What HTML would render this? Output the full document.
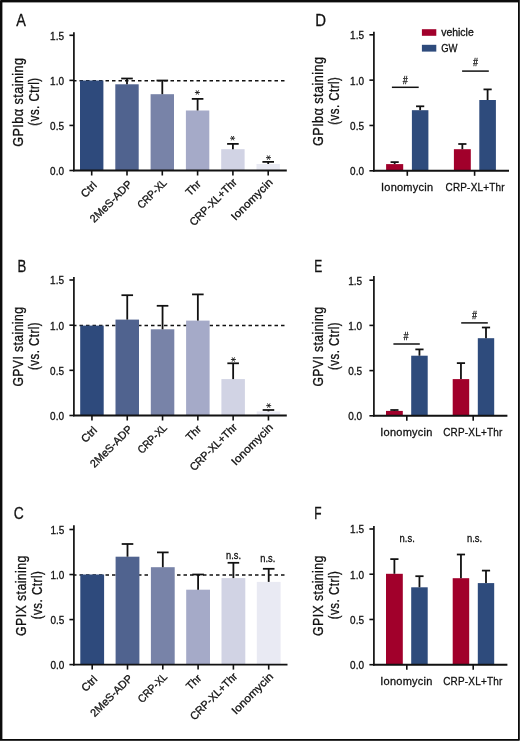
<!DOCTYPE html>
<html><head><meta charset="utf-8"><style>
html,body{margin:0;padding:0;background:#fff;}
body{width:520px;height:741px;overflow:hidden;}
svg{display:block;font-family:"Liberation Sans", sans-serif;will-change:transform;}
text{stroke:#111;stroke-width:0.3px;}
</style></head><body>
<svg width="520" height="741" viewBox="0 0 520 741">
<rect x="0" y="0" width="520" height="741" fill="#fff"/>
<line x1="73.00" y1="80.82" x2="286.00" y2="80.82" stroke="#111" stroke-width="1.5" stroke-dasharray="3.5 3"/>
<rect x="80.00" y="80.50" width="23.40" height="90.00" fill="#2e4a7c"/>
<rect x="115.30" y="84.30" width="23.40" height="86.20" fill="#50638f"/>
<rect x="150.60" y="94.20" width="23.40" height="76.30" fill="#7883a8"/>
<rect x="185.90" y="110.50" width="23.40" height="60.00" fill="#a5aac8"/>
<rect x="221.20" y="149.20" width="23.40" height="21.30" fill="#d1d3e4"/>
<rect x="256.50" y="164.00" width="23.40" height="6.50" fill="#e9eaf3"/>
<line x1="127.00" y1="78.50" x2="127.00" y2="84.30" stroke="#111" stroke-width="1.8" />
<line x1="121.20" y1="78.50" x2="132.80" y2="78.50" stroke="#111" stroke-width="1.75" />
<line x1="162.30" y1="80.50" x2="162.30" y2="94.20" stroke="#111" stroke-width="1.8" />
<line x1="156.50" y1="80.50" x2="168.10" y2="80.50" stroke="#111" stroke-width="1.75" />
<line x1="197.60" y1="98.90" x2="197.60" y2="110.50" stroke="#111" stroke-width="1.8" />
<line x1="191.80" y1="98.90" x2="203.40" y2="98.90" stroke="#111" stroke-width="1.75" />
<line x1="232.90" y1="143.90" x2="232.90" y2="149.20" stroke="#111" stroke-width="1.8" />
<line x1="227.10" y1="143.90" x2="238.70" y2="143.90" stroke="#111" stroke-width="1.75" />
<line x1="268.20" y1="161.90" x2="268.20" y2="164.00" stroke="#111" stroke-width="1.8" />
<line x1="262.40" y1="161.90" x2="274.00" y2="161.90" stroke="#111" stroke-width="1.75" />
<line x1="73.90" y1="32.20" x2="73.90" y2="171.30" stroke="#111" stroke-width="1.7" />
<line x1="69.40" y1="170.50" x2="73.90" y2="170.50" stroke="#111" stroke-width="1.6" />
<text x="64.00" y="174.90" font-size="10.5" text-anchor="end" fill="#111" textLength="13.90" lengthAdjust="spacingAndGlyphs" >0.0</text>
<line x1="69.40" y1="125.43" x2="73.90" y2="125.43" stroke="#111" stroke-width="1.6" />
<text x="64.00" y="129.83" font-size="10.5" text-anchor="end" fill="#111" textLength="13.90" lengthAdjust="spacingAndGlyphs" >0.5</text>
<line x1="69.40" y1="80.37" x2="73.90" y2="80.37" stroke="#111" stroke-width="1.6" />
<text x="64.00" y="84.77" font-size="10.5" text-anchor="end" fill="#111" textLength="13.90" lengthAdjust="spacingAndGlyphs" >1.0</text>
<line x1="69.40" y1="35.30" x2="73.90" y2="35.30" stroke="#111" stroke-width="1.6" />
<text x="64.00" y="39.70" font-size="10.5" text-anchor="end" fill="#111" textLength="13.90" lengthAdjust="spacingAndGlyphs" >1.5</text>
<line x1="73.00" y1="170.50" x2="286.80" y2="170.50" stroke="#111" stroke-width="1.9" />
<line x1="91.70" y1="170.50" x2="91.70" y2="175.50" stroke="#111" stroke-width="1.6" />
<line x1="127.00" y1="170.50" x2="127.00" y2="175.50" stroke="#111" stroke-width="1.6" />
<line x1="162.30" y1="170.50" x2="162.30" y2="175.50" stroke="#111" stroke-width="1.6" />
<line x1="197.60" y1="170.50" x2="197.60" y2="175.50" stroke="#111" stroke-width="1.6" />
<line x1="232.90" y1="170.50" x2="232.90" y2="175.50" stroke="#111" stroke-width="1.6" />
<line x1="268.20" y1="170.50" x2="268.20" y2="175.50" stroke="#111" stroke-width="1.6" />
<text x="0.00" y="0.00" font-size="11" text-anchor="end" fill="#111" textLength="17.10" lengthAdjust="spacingAndGlyphs" transform="translate(97.40,186.05) rotate(-45)" >Ctrl</text>
<text x="0.00" y="0.00" font-size="11" text-anchor="end" fill="#111" textLength="54.40" lengthAdjust="spacingAndGlyphs" transform="translate(132.80,184.90) rotate(-45)" >2MeS-ADP</text>
<text x="0.00" y="0.00" font-size="11" text-anchor="end" fill="#111" textLength="36.50" lengthAdjust="spacingAndGlyphs" transform="translate(167.50,183.50) rotate(-45)" >CRP-XL</text>
<text x="0.00" y="0.00" font-size="11" text-anchor="end" fill="#111" textLength="16.60" lengthAdjust="spacingAndGlyphs" transform="translate(201.70,184.70) rotate(-45)" >Thr</text>
<text x="0.00" y="0.00" font-size="11" text-anchor="end" fill="#111" textLength="61.70" lengthAdjust="spacingAndGlyphs" transform="translate(237.50,183.00) rotate(-45)" >CRP-XL+Thr</text>
<text x="0.00" y="0.00" font-size="11" text-anchor="end" fill="#111" textLength="53.60" lengthAdjust="spacingAndGlyphs" transform="translate(273.40,183.00) rotate(-45)" >Ionomycin</text>
<text x="16.30" y="25.50" font-size="17" text-anchor="start" fill="#111" textLength="9.60" lengthAdjust="spacingAndGlyphs" >A</text>
<text x="0.00" y="0.00" font-size="14.5" text-anchor="middle" fill="#111" textLength="89.40" lengthAdjust="spacingAndGlyphs" transform="translate(23.10,102.15) rotate(-90)" letter-spacing="0.5">GPIb&#945; staining</text>
<text x="0.00" y="0.00" font-size="14" text-anchor="middle" fill="#111" textLength="48.20" lengthAdjust="spacingAndGlyphs" transform="translate(39.00,101.55) rotate(-90)" letter-spacing="0.6">(vs. Ctrl)</text>
<path d="M194.90,92.50L199.90,92.50M196.15,90.33L198.65,94.67M198.65,90.33L196.15,94.67" stroke="#111" stroke-width="0.85" fill="none"/>
<path d="M230.10,138.20L235.10,138.20M231.35,136.03L233.85,140.37M233.85,136.03L231.35,140.37" stroke="#111" stroke-width="0.85" fill="none"/>
<path d="M266.00,157.60L271.00,157.60M267.25,155.43L269.75,159.77M269.75,155.43L267.25,159.77" stroke="#111" stroke-width="0.85" fill="none"/>
<line x1="73.00" y1="325.62" x2="286.00" y2="325.62" stroke="#111" stroke-width="1.5" stroke-dasharray="3.5 3"/>
<rect x="80.20" y="325.60" width="23.50" height="89.90" fill="#2e4a7c"/>
<rect x="115.50" y="319.60" width="23.50" height="95.90" fill="#50638f"/>
<rect x="150.80" y="329.30" width="23.50" height="86.20" fill="#7883a8"/>
<rect x="186.10" y="320.60" width="23.50" height="94.90" fill="#a5aac8"/>
<rect x="221.40" y="379.10" width="23.50" height="36.40" fill="#d1d3e4"/>
<rect x="256.70" y="411.40" width="23.50" height="4.10" fill="#e9eaf3"/>
<line x1="127.25" y1="295.20" x2="127.25" y2="319.60" stroke="#111" stroke-width="1.8" />
<line x1="121.45" y1="295.20" x2="133.05" y2="295.20" stroke="#111" stroke-width="1.75" />
<line x1="162.55" y1="305.80" x2="162.55" y2="329.30" stroke="#111" stroke-width="1.8" />
<line x1="156.75" y1="305.80" x2="168.35" y2="305.80" stroke="#111" stroke-width="1.75" />
<line x1="197.85" y1="294.40" x2="197.85" y2="320.60" stroke="#111" stroke-width="1.8" />
<line x1="192.05" y1="294.40" x2="203.65" y2="294.40" stroke="#111" stroke-width="1.75" />
<line x1="233.15" y1="363.30" x2="233.15" y2="379.10" stroke="#111" stroke-width="1.8" />
<line x1="227.35" y1="363.30" x2="238.95" y2="363.30" stroke="#111" stroke-width="1.75" />
<line x1="268.45" y1="410.00" x2="268.45" y2="411.40" stroke="#111" stroke-width="1.8" />
<line x1="262.65" y1="410.00" x2="274.25" y2="410.00" stroke="#111" stroke-width="1.75" />
<line x1="73.90" y1="276.90" x2="73.90" y2="416.30" stroke="#111" stroke-width="1.7" />
<line x1="69.40" y1="415.50" x2="73.90" y2="415.50" stroke="#111" stroke-width="1.6" />
<text x="64.00" y="419.90" font-size="10.5" text-anchor="end" fill="#111" textLength="13.90" lengthAdjust="spacingAndGlyphs" >0.0</text>
<line x1="69.40" y1="370.33" x2="73.90" y2="370.33" stroke="#111" stroke-width="1.6" />
<text x="64.00" y="374.73" font-size="10.5" text-anchor="end" fill="#111" textLength="13.90" lengthAdjust="spacingAndGlyphs" >0.5</text>
<line x1="69.40" y1="325.17" x2="73.90" y2="325.17" stroke="#111" stroke-width="1.6" />
<text x="64.00" y="329.57" font-size="10.5" text-anchor="end" fill="#111" textLength="13.90" lengthAdjust="spacingAndGlyphs" >1.0</text>
<line x1="69.40" y1="280.00" x2="73.90" y2="280.00" stroke="#111" stroke-width="1.6" />
<text x="64.00" y="284.40" font-size="10.5" text-anchor="end" fill="#111" textLength="13.90" lengthAdjust="spacingAndGlyphs" >1.5</text>
<line x1="73.00" y1="415.50" x2="286.80" y2="415.50" stroke="#111" stroke-width="1.9" />
<line x1="91.95" y1="415.50" x2="91.95" y2="420.50" stroke="#111" stroke-width="1.6" />
<line x1="127.25" y1="415.50" x2="127.25" y2="420.50" stroke="#111" stroke-width="1.6" />
<line x1="162.55" y1="415.50" x2="162.55" y2="420.50" stroke="#111" stroke-width="1.6" />
<line x1="197.85" y1="415.50" x2="197.85" y2="420.50" stroke="#111" stroke-width="1.6" />
<line x1="233.15" y1="415.50" x2="233.15" y2="420.50" stroke="#111" stroke-width="1.6" />
<line x1="268.45" y1="415.50" x2="268.45" y2="420.50" stroke="#111" stroke-width="1.6" />
<text x="0.00" y="0.00" font-size="11" text-anchor="end" fill="#111" textLength="17.10" lengthAdjust="spacingAndGlyphs" transform="translate(97.65,431.05) rotate(-45)" >Ctrl</text>
<text x="0.00" y="0.00" font-size="11" text-anchor="end" fill="#111" textLength="54.40" lengthAdjust="spacingAndGlyphs" transform="translate(133.05,429.90) rotate(-45)" >2MeS-ADP</text>
<text x="0.00" y="0.00" font-size="11" text-anchor="end" fill="#111" textLength="36.50" lengthAdjust="spacingAndGlyphs" transform="translate(167.75,428.50) rotate(-45)" >CRP-XL</text>
<text x="0.00" y="0.00" font-size="11" text-anchor="end" fill="#111" textLength="16.60" lengthAdjust="spacingAndGlyphs" transform="translate(201.95,429.70) rotate(-45)" >Thr</text>
<text x="0.00" y="0.00" font-size="11" text-anchor="end" fill="#111" textLength="61.70" lengthAdjust="spacingAndGlyphs" transform="translate(237.75,428.00) rotate(-45)" >CRP-XL+Thr</text>
<text x="0.00" y="0.00" font-size="11" text-anchor="end" fill="#111" textLength="53.60" lengthAdjust="spacingAndGlyphs" transform="translate(273.65,428.00) rotate(-45)" >Ionomycin</text>
<text x="17.60" y="271.50" font-size="17" text-anchor="start" fill="#111" textLength="8.80" lengthAdjust="spacingAndGlyphs" >B</text>
<text x="0.00" y="0.00" font-size="14.5" text-anchor="middle" fill="#111" textLength="80.00" lengthAdjust="spacingAndGlyphs" transform="translate(23.10,346.60) rotate(-90)" letter-spacing="0.5">GPVI staining</text>
<text x="0.00" y="0.00" font-size="14" text-anchor="middle" fill="#111" textLength="48.20" lengthAdjust="spacingAndGlyphs" transform="translate(39.00,346.00) rotate(-90)" letter-spacing="0.6">(vs. Ctrl)</text>
<path d="M230.90,359.50L235.90,359.50M232.15,357.33L234.65,361.67M234.65,357.33L232.15,361.67" stroke="#111" stroke-width="0.85" fill="none"/>
<path d="M266.20,405.60L271.20,405.60M267.45,403.43L269.95,407.77M269.95,403.43L267.45,407.77" stroke="#111" stroke-width="0.85" fill="none"/>
<line x1="73.00" y1="574.98" x2="286.00" y2="574.98" stroke="#111" stroke-width="1.5" stroke-dasharray="3.5 3"/>
<rect x="80.30" y="574.50" width="23.80" height="90.10" fill="#2e4a7c"/>
<rect x="115.60" y="556.70" width="23.80" height="107.90" fill="#50638f"/>
<rect x="150.90" y="567.20" width="23.80" height="97.40" fill="#7883a8"/>
<rect x="186.20" y="589.70" width="23.80" height="74.90" fill="#a5aac8"/>
<rect x="221.50" y="578.10" width="23.80" height="86.50" fill="#d1d3e4"/>
<rect x="256.80" y="581.90" width="23.80" height="82.70" fill="#e9eaf3"/>
<line x1="127.50" y1="544.00" x2="127.50" y2="556.70" stroke="#111" stroke-width="1.8" />
<line x1="121.70" y1="544.00" x2="133.30" y2="544.00" stroke="#111" stroke-width="1.75" />
<line x1="162.80" y1="552.40" x2="162.80" y2="567.20" stroke="#111" stroke-width="1.8" />
<line x1="157.00" y1="552.40" x2="168.60" y2="552.40" stroke="#111" stroke-width="1.75" />
<line x1="198.10" y1="574.50" x2="198.10" y2="589.70" stroke="#111" stroke-width="1.8" />
<line x1="192.30" y1="574.50" x2="203.90" y2="574.50" stroke="#111" stroke-width="1.75" />
<line x1="233.40" y1="562.80" x2="233.40" y2="578.10" stroke="#111" stroke-width="1.8" />
<line x1="227.60" y1="562.80" x2="239.20" y2="562.80" stroke="#111" stroke-width="1.75" />
<line x1="268.70" y1="568.80" x2="268.70" y2="581.90" stroke="#111" stroke-width="1.8" />
<line x1="262.90" y1="568.80" x2="274.50" y2="568.80" stroke="#111" stroke-width="1.75" />
<line x1="73.90" y1="525.20" x2="73.90" y2="665.40" stroke="#111" stroke-width="1.7" />
<line x1="69.40" y1="664.60" x2="73.90" y2="664.60" stroke="#111" stroke-width="1.6" />
<text x="64.40" y="669.00" font-size="10.5" text-anchor="end" fill="#111" textLength="13.90" lengthAdjust="spacingAndGlyphs" >0.0</text>
<line x1="69.40" y1="619.57" x2="73.90" y2="619.57" stroke="#111" stroke-width="1.6" />
<text x="64.40" y="623.97" font-size="10.5" text-anchor="end" fill="#111" textLength="13.90" lengthAdjust="spacingAndGlyphs" >0.5</text>
<line x1="69.40" y1="574.53" x2="73.90" y2="574.53" stroke="#111" stroke-width="1.6" />
<text x="64.40" y="578.93" font-size="10.5" text-anchor="end" fill="#111" textLength="13.90" lengthAdjust="spacingAndGlyphs" >1.0</text>
<line x1="69.40" y1="529.50" x2="73.90" y2="529.50" stroke="#111" stroke-width="1.6" />
<text x="64.40" y="533.90" font-size="10.5" text-anchor="end" fill="#111" textLength="13.90" lengthAdjust="spacingAndGlyphs" >1.5</text>
<line x1="73.00" y1="664.60" x2="287.50" y2="664.60" stroke="#111" stroke-width="1.9" />
<line x1="92.20" y1="664.60" x2="92.20" y2="669.60" stroke="#111" stroke-width="1.6" />
<line x1="127.50" y1="664.60" x2="127.50" y2="669.60" stroke="#111" stroke-width="1.6" />
<line x1="162.80" y1="664.60" x2="162.80" y2="669.60" stroke="#111" stroke-width="1.6" />
<line x1="198.10" y1="664.60" x2="198.10" y2="669.60" stroke="#111" stroke-width="1.6" />
<line x1="233.40" y1="664.60" x2="233.40" y2="669.60" stroke="#111" stroke-width="1.6" />
<line x1="268.70" y1="664.60" x2="268.70" y2="669.60" stroke="#111" stroke-width="1.6" />
<text x="0.00" y="0.00" font-size="11" text-anchor="end" fill="#111" textLength="17.10" lengthAdjust="spacingAndGlyphs" transform="translate(97.90,680.15) rotate(-45)" >Ctrl</text>
<text x="0.00" y="0.00" font-size="11" text-anchor="end" fill="#111" textLength="54.40" lengthAdjust="spacingAndGlyphs" transform="translate(133.30,679.00) rotate(-45)" >2MeS-ADP</text>
<text x="0.00" y="0.00" font-size="11" text-anchor="end" fill="#111" textLength="36.50" lengthAdjust="spacingAndGlyphs" transform="translate(168.00,677.60) rotate(-45)" >CRP-XL</text>
<text x="0.00" y="0.00" font-size="11" text-anchor="end" fill="#111" textLength="16.60" lengthAdjust="spacingAndGlyphs" transform="translate(202.20,678.80) rotate(-45)" >Thr</text>
<text x="0.00" y="0.00" font-size="11" text-anchor="end" fill="#111" textLength="61.70" lengthAdjust="spacingAndGlyphs" transform="translate(238.00,677.10) rotate(-45)" >CRP-XL+Thr</text>
<text x="0.00" y="0.00" font-size="11" text-anchor="end" fill="#111" textLength="53.60" lengthAdjust="spacingAndGlyphs" transform="translate(273.90,677.10) rotate(-45)" >Ionomycin</text>
<text x="13.80" y="519.30" font-size="17" text-anchor="start" fill="#111" textLength="10.00" lengthAdjust="spacingAndGlyphs" >C</text>
<text x="0.00" y="0.00" font-size="14.5" text-anchor="middle" fill="#111" textLength="80.70" lengthAdjust="spacingAndGlyphs" transform="translate(25.80,595.60) rotate(-90)" letter-spacing="0.5">GPIX staining</text>
<text x="0.00" y="0.00" font-size="14" text-anchor="middle" fill="#111" textLength="48.60" lengthAdjust="spacingAndGlyphs" transform="translate(41.70,595.00) rotate(-90)" letter-spacing="0.6">(vs. Ctrl)</text>
<text x="233.50" y="559.30" font-size="10.5" text-anchor="middle" fill="#111" textLength="15.00" lengthAdjust="spacingAndGlyphs" >n.s.</text>
<text x="267.80" y="562.20" font-size="10.5" text-anchor="middle" fill="#111" textLength="15.00" lengthAdjust="spacingAndGlyphs" >n.s.</text>
<rect x="386.10" y="164.10" width="17.10" height="6.70" fill="#a1002b"/>
<rect x="411.90" y="110.20" width="16.50" height="60.60" fill="#2e4b7c"/>
<rect x="453.90" y="149.20" width="16.90" height="21.60" fill="#a1002b"/>
<rect x="479.30" y="100.00" width="16.60" height="70.80" fill="#2e4b7c"/>
<line x1="394.65" y1="162.10" x2="394.65" y2="164.10" stroke="#111" stroke-width="1.8" />
<line x1="390.55" y1="162.10" x2="398.75" y2="162.10" stroke="#111" stroke-width="1.75" />
<line x1="420.15" y1="106.30" x2="420.15" y2="110.20" stroke="#111" stroke-width="1.8" />
<line x1="416.05" y1="106.30" x2="424.25" y2="106.30" stroke="#111" stroke-width="1.75" />
<line x1="462.35" y1="144.00" x2="462.35" y2="149.20" stroke="#111" stroke-width="1.8" />
<line x1="458.25" y1="144.00" x2="466.45" y2="144.00" stroke="#111" stroke-width="1.75" />
<line x1="487.60" y1="89.40" x2="487.60" y2="100.00" stroke="#111" stroke-width="1.8" />
<line x1="483.50" y1="89.40" x2="491.70" y2="89.40" stroke="#111" stroke-width="1.75" />
<line x1="373.90" y1="31.70" x2="373.90" y2="171.60" stroke="#111" stroke-width="1.7" />
<line x1="369.40" y1="170.80" x2="373.90" y2="170.80" stroke="#111" stroke-width="1.6" />
<text x="364.00" y="175.20" font-size="10.5" text-anchor="end" fill="#111" textLength="13.90" lengthAdjust="spacingAndGlyphs" >0.0</text>
<line x1="369.40" y1="125.47" x2="373.90" y2="125.47" stroke="#111" stroke-width="1.6" />
<text x="364.00" y="129.87" font-size="10.5" text-anchor="end" fill="#111" textLength="13.90" lengthAdjust="spacingAndGlyphs" >0.5</text>
<line x1="369.40" y1="80.13" x2="373.90" y2="80.13" stroke="#111" stroke-width="1.6" />
<text x="364.00" y="84.53" font-size="10.5" text-anchor="end" fill="#111" textLength="13.90" lengthAdjust="spacingAndGlyphs" >1.0</text>
<line x1="369.40" y1="34.80" x2="373.90" y2="34.80" stroke="#111" stroke-width="1.6" />
<text x="364.00" y="39.20" font-size="10.5" text-anchor="end" fill="#111" textLength="13.90" lengthAdjust="spacingAndGlyphs" >1.5</text>
<line x1="373.10" y1="170.80" x2="509.00" y2="170.80" stroke="#111" stroke-width="1.9" />
<line x1="407.30" y1="170.80" x2="407.30" y2="175.80" stroke="#111" stroke-width="1.6" />
<line x1="474.60" y1="170.80" x2="474.60" y2="175.80" stroke="#111" stroke-width="1.6" />
<text x="381.00" y="191.00" font-size="11.6" text-anchor="start" fill="#111" textLength="52.30" lengthAdjust="spacingAndGlyphs" letter-spacing="0.25">Ionomycin</text>
<text x="445.50" y="191.00" font-size="11.6" text-anchor="start" fill="#111" textLength="59.30" lengthAdjust="spacingAndGlyphs" letter-spacing="0.25">CRP-XL+Thr</text>
<text x="315.30" y="25.50" font-size="17" text-anchor="start" fill="#111" textLength="10.80" lengthAdjust="spacingAndGlyphs" >D</text>
<text x="0.00" y="0.00" font-size="14.5" text-anchor="middle" fill="#111" textLength="89.40" lengthAdjust="spacingAndGlyphs" transform="translate(323.10,101.30) rotate(-90)" letter-spacing="0.5">GPIb&#945; staining</text>
<text x="0.00" y="0.00" font-size="14" text-anchor="middle" fill="#111" textLength="48.20" lengthAdjust="spacingAndGlyphs" transform="translate(339.00,100.70) rotate(-90)" letter-spacing="0.6">(vs. Ctrl)</text>
<line x1="391.90" y1="87.30" x2="418.70" y2="87.30" stroke="#111" stroke-width="1.5" />
<text x="405.10" y="84.30" font-size="10" text-anchor="middle" fill="#111" textLength="4.80" lengthAdjust="spacingAndGlyphs" font-style="italic">#</text>
<line x1="462.10" y1="71.10" x2="488.80" y2="71.10" stroke="#111" stroke-width="1.5" />
<text x="475.50" y="66.00" font-size="10" text-anchor="middle" fill="#111" textLength="4.80" lengthAdjust="spacingAndGlyphs" font-style="italic">#</text>
<rect x="421.90" y="29.20" width="14.40" height="6.60" fill="#a1002b"/>
<rect x="421.90" y="44.80" width="14.40" height="6.80" fill="#2e4b7c"/>
<text x="441.20" y="35.70" font-size="10.8" text-anchor="start" fill="#111" textLength="32.50" lengthAdjust="spacingAndGlyphs" >vehicle</text>
<text x="441.20" y="51.50" font-size="10.8" text-anchor="start" fill="#111" textLength="16.30" lengthAdjust="spacingAndGlyphs" >GW</text>
<rect x="386.00" y="410.90" width="16.80" height="4.90" fill="#a1002b"/>
<rect x="411.20" y="355.70" width="16.50" height="60.10" fill="#2e4b7c"/>
<rect x="452.70" y="379.10" width="16.50" height="36.70" fill="#a1002b"/>
<rect x="477.80" y="338.20" width="16.40" height="77.60" fill="#2e4b7c"/>
<line x1="394.40" y1="410.00" x2="394.40" y2="410.90" stroke="#111" stroke-width="1.8" />
<line x1="390.30" y1="410.00" x2="398.50" y2="410.00" stroke="#111" stroke-width="1.75" />
<line x1="419.45" y1="349.40" x2="419.45" y2="355.70" stroke="#111" stroke-width="1.8" />
<line x1="415.35" y1="349.40" x2="423.55" y2="349.40" stroke="#111" stroke-width="1.75" />
<line x1="460.95" y1="363.10" x2="460.95" y2="379.10" stroke="#111" stroke-width="1.8" />
<line x1="456.85" y1="363.10" x2="465.05" y2="363.10" stroke="#111" stroke-width="1.75" />
<line x1="486.00" y1="327.50" x2="486.00" y2="338.20" stroke="#111" stroke-width="1.8" />
<line x1="481.90" y1="327.50" x2="490.10" y2="327.50" stroke="#111" stroke-width="1.75" />
<line x1="373.90" y1="275.90" x2="373.90" y2="416.60" stroke="#111" stroke-width="1.7" />
<line x1="369.40" y1="415.80" x2="373.90" y2="415.80" stroke="#111" stroke-width="1.6" />
<text x="362.10" y="420.20" font-size="10.5" text-anchor="end" fill="#111" textLength="13.90" lengthAdjust="spacingAndGlyphs" >0.0</text>
<line x1="369.40" y1="370.60" x2="373.90" y2="370.60" stroke="#111" stroke-width="1.6" />
<text x="362.10" y="375.00" font-size="10.5" text-anchor="end" fill="#111" textLength="13.90" lengthAdjust="spacingAndGlyphs" >0.5</text>
<line x1="369.40" y1="325.40" x2="373.90" y2="325.40" stroke="#111" stroke-width="1.6" />
<text x="362.10" y="329.80" font-size="10.5" text-anchor="end" fill="#111" textLength="13.90" lengthAdjust="spacingAndGlyphs" >1.0</text>
<line x1="369.40" y1="280.20" x2="373.90" y2="280.20" stroke="#111" stroke-width="1.6" />
<text x="362.10" y="284.60" font-size="10.5" text-anchor="end" fill="#111" textLength="13.90" lengthAdjust="spacingAndGlyphs" >1.5</text>
<line x1="373.10" y1="415.80" x2="507.40" y2="415.80" stroke="#111" stroke-width="1.9" />
<line x1="406.80" y1="415.80" x2="406.80" y2="420.80" stroke="#111" stroke-width="1.6" />
<line x1="473.20" y1="415.80" x2="473.20" y2="420.80" stroke="#111" stroke-width="1.6" />
<text x="380.30" y="436.00" font-size="11.6" text-anchor="start" fill="#111" textLength="52.30" lengthAdjust="spacingAndGlyphs" letter-spacing="0.25">Ionomycin</text>
<text x="443.20" y="436.00" font-size="11.6" text-anchor="start" fill="#111" textLength="59.30" lengthAdjust="spacingAndGlyphs" letter-spacing="0.25">CRP-XL+Thr</text>
<text x="314.20" y="271.50" font-size="17" text-anchor="start" fill="#111" textLength="8.00" lengthAdjust="spacingAndGlyphs" >E</text>
<text x="0.00" y="0.00" font-size="14.5" text-anchor="middle" fill="#111" textLength="80.00" lengthAdjust="spacingAndGlyphs" transform="translate(323.10,346.60) rotate(-90)" letter-spacing="0.5">GPVI staining</text>
<text x="0.00" y="0.00" font-size="14" text-anchor="middle" fill="#111" textLength="48.20" lengthAdjust="spacingAndGlyphs" transform="translate(339.00,346.00) rotate(-90)" letter-spacing="0.6">(vs. Ctrl)</text>
<line x1="393.40" y1="344.00" x2="419.80" y2="344.00" stroke="#111" stroke-width="1.5" />
<text x="405.90" y="339.90" font-size="10" text-anchor="middle" fill="#111" textLength="4.80" lengthAdjust="spacingAndGlyphs" font-style="italic">#</text>
<line x1="461.20" y1="322.90" x2="487.80" y2="322.90" stroke="#111" stroke-width="1.5" />
<text x="474.30" y="319.20" font-size="10" text-anchor="middle" fill="#111" textLength="4.80" lengthAdjust="spacingAndGlyphs" font-style="italic">#</text>
<rect x="386.00" y="573.80" width="16.80" height="90.90" fill="#a1002b"/>
<rect x="411.20" y="587.30" width="16.50" height="77.40" fill="#2e4b7c"/>
<rect x="452.70" y="578.20" width="16.50" height="86.50" fill="#a1002b"/>
<rect x="477.80" y="583.10" width="16.40" height="81.60" fill="#2e4b7c"/>
<line x1="394.40" y1="559.10" x2="394.40" y2="573.80" stroke="#111" stroke-width="1.8" />
<line x1="390.30" y1="559.10" x2="398.50" y2="559.10" stroke="#111" stroke-width="1.75" />
<line x1="419.45" y1="576.20" x2="419.45" y2="587.30" stroke="#111" stroke-width="1.8" />
<line x1="415.35" y1="576.20" x2="423.55" y2="576.20" stroke="#111" stroke-width="1.75" />
<line x1="460.95" y1="554.50" x2="460.95" y2="578.20" stroke="#111" stroke-width="1.8" />
<line x1="456.85" y1="554.50" x2="465.05" y2="554.50" stroke="#111" stroke-width="1.75" />
<line x1="486.00" y1="570.60" x2="486.00" y2="583.10" stroke="#111" stroke-width="1.8" />
<line x1="481.90" y1="570.60" x2="490.10" y2="570.60" stroke="#111" stroke-width="1.75" />
<line x1="373.90" y1="525.90" x2="373.90" y2="665.50" stroke="#111" stroke-width="1.7" />
<line x1="369.40" y1="664.70" x2="373.90" y2="664.70" stroke="#111" stroke-width="1.6" />
<text x="364.00" y="669.10" font-size="10.5" text-anchor="end" fill="#111" textLength="13.90" lengthAdjust="spacingAndGlyphs" >0.0</text>
<line x1="369.40" y1="619.47" x2="373.90" y2="619.47" stroke="#111" stroke-width="1.6" />
<text x="364.00" y="623.87" font-size="10.5" text-anchor="end" fill="#111" textLength="13.90" lengthAdjust="spacingAndGlyphs" >0.5</text>
<line x1="369.40" y1="574.23" x2="373.90" y2="574.23" stroke="#111" stroke-width="1.6" />
<text x="364.00" y="578.63" font-size="10.5" text-anchor="end" fill="#111" textLength="13.90" lengthAdjust="spacingAndGlyphs" >1.0</text>
<line x1="369.40" y1="529.00" x2="373.90" y2="529.00" stroke="#111" stroke-width="1.6" />
<text x="364.00" y="533.40" font-size="10.5" text-anchor="end" fill="#111" textLength="13.90" lengthAdjust="spacingAndGlyphs" >1.5</text>
<line x1="373.10" y1="664.70" x2="507.40" y2="664.70" stroke="#111" stroke-width="1.9" />
<line x1="406.80" y1="664.70" x2="406.80" y2="669.70" stroke="#111" stroke-width="1.6" />
<line x1="473.20" y1="664.70" x2="473.20" y2="669.70" stroke="#111" stroke-width="1.6" />
<text x="380.30" y="684.90" font-size="11.6" text-anchor="start" fill="#111" textLength="52.30" lengthAdjust="spacingAndGlyphs" letter-spacing="0.25">Ionomycin</text>
<text x="443.20" y="684.90" font-size="11.6" text-anchor="start" fill="#111" textLength="59.30" lengthAdjust="spacingAndGlyphs" letter-spacing="0.25">CRP-XL+Thr</text>
<text x="314.20" y="519.30" font-size="17" text-anchor="start" fill="#111" textLength="7.30" lengthAdjust="spacingAndGlyphs" >F</text>
<text x="0.00" y="0.00" font-size="14.5" text-anchor="middle" fill="#111" textLength="80.70" lengthAdjust="spacingAndGlyphs" transform="translate(323.10,595.60) rotate(-90)" letter-spacing="0.5">GPIX staining</text>
<text x="0.00" y="0.00" font-size="14" text-anchor="middle" fill="#111" textLength="48.60" lengthAdjust="spacingAndGlyphs" transform="translate(339.00,595.00) rotate(-90)" letter-spacing="0.6">(vs. Ctrl)</text>
<text x="407.20" y="541.90" font-size="10.5" text-anchor="middle" fill="#111" textLength="15.20" lengthAdjust="spacingAndGlyphs" >n.s.</text>
<text x="474.50" y="541.90" font-size="10.5" text-anchor="middle" fill="#111" textLength="15.20" lengthAdjust="spacingAndGlyphs" >n.s.</text>
<rect x="0" y="0" width="2" height="741" fill="#0c0c0c"/>
<rect x="0" y="0" width="520" height="2" fill="#0c0c0c"/>
<rect x="2" y="2" width="516" height="0.4" fill="#0c0c0c"/>
<rect x="2" y="2" width="0.4" height="737" fill="#0c0c0c"/>
<rect x="518" y="0" width="1" height="741" fill="#0a0a0a"/>
<rect x="519" y="0" width="1" height="741" fill="#383838"/>
<rect x="0" y="739" width="519" height="1" fill="#0a0a0a"/>
<rect x="0" y="740" width="519" height="1" fill="#383838"/>
<rect x="519" y="740" width="1" height="1" fill="#8a8a8a"/>
<rect x="0" y="0" width="1" height="1" fill="#3a3a3a"/>
</svg>
</body></html>
